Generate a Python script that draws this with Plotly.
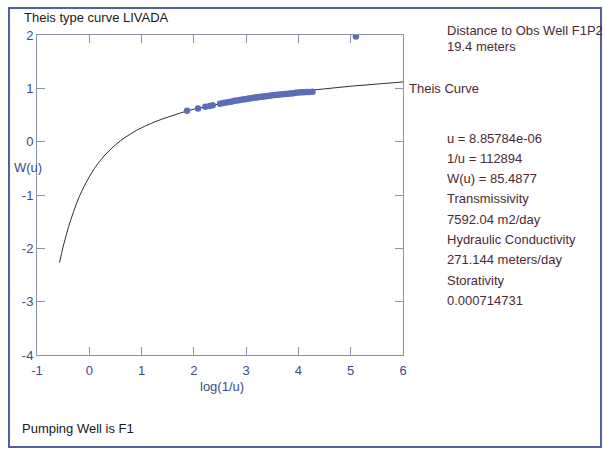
import plotly.graph_objects as go

# Theis type curve: log10 W(u) against log10(1/u)
curve_log_inv_u = [-0.57, -0.5, -0.4, -0.3, -0.2, -0.1, 0.0, 0.1, 0.2, 0.3, 0.4, 0.5,
                   0.6, 0.7, 0.8, 0.9, 1.0, 1.25, 1.5, 1.75, 2.0, 2.25, 2.5, 2.75,
                   3.0, 3.5, 4.0, 4.5, 5.0, 5.5, 6.0]
curve_log_wu = [-2.27, -1.97, -1.61, -1.31, -1.05, -0.84, -0.66, -0.50, -0.37, -0.25,
                -0.15, -0.06, 0.02, 0.09, 0.15, 0.21, 0.26, 0.37, 0.46, 0.54, 0.61,
                0.66, 0.71, 0.76, 0.80, 0.87, 0.94, 0.99, 1.04, 1.08, 1.12]

# Observation well data matched onto the curve
obs_log_inv_u = [1.87, 2.08, 2.22, 2.30, 2.36, 2.50, 2.56, 2.62, 2.68, 2.73, 2.78,
                 2.83, 2.88, 2.93, 2.97, 3.01, 3.05, 3.09, 3.13, 3.17, 3.21, 3.25,
                 3.29, 3.33, 3.37, 3.41, 3.45, 3.50, 3.55, 3.60, 3.65, 3.70, 3.75,
                 3.80, 3.85, 3.90, 3.95, 4.00, 4.05, 4.10, 4.15, 4.20, 4.27, 5.10]
obs_log_wu = [0.58, 0.62, 0.655, 0.67, 0.685, 0.71, 0.725, 0.735, 0.745, 0.755, 0.765,
              0.77, 0.78, 0.79, 0.795, 0.80, 0.808, 0.815, 0.82, 0.826, 0.83, 0.836,
              0.842, 0.848, 0.852, 0.858, 0.862, 0.868, 0.874, 0.88, 0.886, 0.89, 0.895,
              0.90, 0.905, 0.91, 0.915, 0.92, 0.925, 0.928, 0.93, 0.932, 0.935, 1.97]

x_ticks = [-1, 0, 1, 2, 3, 4, 5, 6]
x_tick_labels = ["-1", "0", "1", "2", "3", "4", "5", "6"]
y_ticks = [-4, -3, -2, -1, 0, 1, 2]
y_tick_labels = ["-4", "-3", "-2", "-1", "0", "1", "2"]

info_header = ["Distance to Obs Well F1P2", "19.4 meters"]
info_lines = ["u = 8.85784e-06", "1/u = 112894", "W(u) = 85.4877", "Transmissivity",
              "7592.04 m2/day", "Hydraulic Conductivity", "271.144 meters/day",
              "Storativity", "0.000714731"]

FONT = "Liberation Sans, Arial, sans-serif"
TICK_COLOR = "#3a4a90"
TEXT_COLOR = "#4a2a35"
AXIS_COLOR = "#8a90ae"

# plot area in pixels
L, R, T, B = 37, 403, 35, 355
W, H = 605, 450


def px(x):
    return (x - L) / (R - L)


def py(y):
    return (B - y) / (B - T)


fig = go.Figure()
fig.add_trace(go.Scatter(x=curve_log_inv_u, y=curve_log_wu, mode="lines",
                         line=dict(color="#3b2a2a", width=1, shape="spline"),
                         hoverinfo="skip", showlegend=False))
fig.add_trace(go.Scatter(x=obs_log_inv_u, y=obs_log_wu, mode="markers",
                         marker=dict(color="#5b6db8", size=6.5),
                         showlegend=False))

axis_common = dict(showline=True, linecolor=AXIS_COLOR, linewidth=1, mirror="ticks",
                   ticks="inside", ticklen=8, tickcolor=AXIS_COLOR, showgrid=False,
                   zeroline=False, tickfont=dict(family=FONT, size=13, color=TICK_COLOR))

fig.update_xaxes(range=[-1, 6], tickvals=x_ticks, ticktext=x_tick_labels,
                 ticklabelstandoff=3, **axis_common)
fig.update_yaxes(range=[-4, 2], tickvals=y_ticks, ticktext=y_tick_labels, **axis_common)

ann = []
ann.append(dict(text="Theis type curve LIVADA", x=px(22), y=py(17), xanchor="left",
                yanchor="middle", font=dict(family=FONT, size=13, color="#1a1a1a")))
ann.append(dict(text="W(u)", x=px(12), y=py(167), xanchor="left", yanchor="middle",
                font=dict(family=FONT, size=13, color=TICK_COLOR)))
ann.append(dict(text="log(1/u)", x=px(222), y=py(386), xanchor="center", yanchor="middle",
                font=dict(family=FONT, size=13, color=TICK_COLOR)))
ann.append(dict(text="Pumping Well is F1", x=px(20), y=py(428), xanchor="left",
                yanchor="middle", font=dict(family=FONT, size=13, color="#1a1a1a")))
ann.append(dict(text="Theis Curve", x=px(407), y=py(88), xanchor="left", yanchor="middle",
                font=dict(family=FONT, size=13, color=TEXT_COLOR)))
for i, t in enumerate(info_header):
    ann.append(dict(text=t, x=px(445), y=py(30 + 17 * i), xanchor="left", yanchor="middle",
                    font=dict(family=FONT, size=13, color=TEXT_COLOR)))
for i, t in enumerate(info_lines):
    ann.append(dict(text=t, x=px(445), y=py(138 + 20.3 * i), xanchor="left",
                    yanchor="middle", font=dict(family=FONT, size=13, color=TEXT_COLOR)))
for a in ann:
    a.update(xref="paper", yref="paper", showarrow=False)

# outer window frame
shapes = [dict(type="rect", xref="paper", yref="paper", x0=px(9), x1=px(601),
               y0=py(447), y1=py(8), line=dict(color="#5060a8", width=2))]

fig.update_layout(width=W, height=H, margin=dict(l=L, r=W - R, t=T, b=H - B),
                  paper_bgcolor="white", plot_bgcolor="white",
                  annotations=ann, shapes=shapes)

fig.write_html("out.html")
